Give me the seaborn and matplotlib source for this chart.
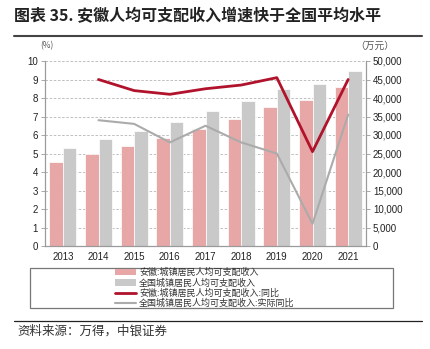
import numpy as np
import pandas as pd
import matplotlib
matplotlib.use("Agg")
import matplotlib.pyplot as plt
from matplotlib.patches import Patch, Rectangle
from matplotlib.lines import Line2D
import seaborn as sns

# ---- data ----
years = ["2013", "2014", "2015", "2016", "2017", "2018", "2019", "2020", "2021"]
anhui_income = [22789, 24839, 26936, 29156, 31640, 34393, 37540, 39442, 43009]
national_income = [26467, 28844, 31195, 33616, 36396, 39251, 42359, 43834, 47412]
line_years = ["2014", "2015", "2016", "2017", "2018", "2019", "2020", "2021"]
anhui_yoy = [9.0, 8.4, 8.2, 8.5, 8.7, 9.1, 5.1, 9.0]
national_real_yoy = [6.8, 6.6, 5.6, 6.5, 5.6, 5.0, 1.2, 7.1]

s_anhui = "安徽:城镇居民人均可支配收入"
s_nat = "全国城镇居民人均可支配收入"
s_anhui_yoy = "安徽:城镇居民人均可支配收入:同比"
s_nat_yoy = "全国城镇居民人均可支配收入:实际同比"

title = "图表 35. 安徽人均可支配收入增速快于全国平均水平"
source = "资料来源：万得，中银证券"

pink = "#E8A7A7"
gray_bar = "#C9C9C9"
red = "#B0132B"
gray_line = "#ABABAB"

sns.set_theme(style="white")
plt.rcParams["font.family"] = ["Liberation Sans", "Noto Sans CJK SC", "DejaVu Sans"]

fig = plt.figure(figsize=(4.31, 3.49), dpi=100)
ax = fig.add_axes([45 / 431, 1 - 246 / 349, (366 - 45) / 431, (246 - 61) / 349])

df = pd.DataFrame({
    "year": years * 2,
    "value": anhui_income + national_income,
    "series": [s_anhui] * len(years) + [s_nat] * len(years),
})
sns.barplot(data=df, x="year", y="value", hue="series", order=years,
            hue_order=[s_anhui, s_nat], palette=[pink, gray_bar], width=0.75,
            saturation=1, ax=ax, legend=False, edgecolor="white", linewidth=0.5)
ax.set_ylim(0, 50000)
ax.set_xlim(-0.5, len(years) - 0.5)
ax.set_yticks(np.arange(0, 50001, 5000))
ax.set_yticklabels([f"{v:,}" for v in range(0, 50001, 5000)])
ax.yaxis.tick_right()
ax.yaxis.set_label_position("right")
ax.set_xlabel("")
ax.set_ylabel("")
ax.grid(axis="y", color="#B5B5B5", linestyle=(0, (3, 2)), linewidth=0.6)
ax.set_axisbelow(True)

ax2 = ax.twinx()
pos = {y: i for i, y in enumerate(years)}
ldf = pd.DataFrame({
    "x": [pos[y] for y in line_years] * 2,
    "v": anhui_yoy + national_real_yoy,
    "s": [s_anhui_yoy] * len(line_years) + [s_nat_yoy] * len(line_years),
})
sns.lineplot(data=ldf[ldf.s == s_anhui_yoy], x="x", y="v", color=red, linewidth=2.0, ax=ax2, legend=False)
sns.lineplot(data=ldf[ldf.s == s_nat_yoy], x="x", y="v", color=gray_line, linewidth=1.5, ax=ax2, legend=False)
ax2.set_ylim(0, 10)
ax2.set_yticks(range(0, 11))
ax2.yaxis.tick_left()
ax2.yaxis.set_label_position("left")
ax2.set_xlabel("")
ax2.set_ylabel("")
ax2.set_xlim(-0.5, len(years) - 0.5)

spine_c = "#9A9A9A"
for a in (ax, ax2):
    a.spines["top"].set_visible(False)
    for s in ("left", "right", "bottom"):
        a.spines[s].set_color(spine_c)
        a.spines[s].set_linewidth(0.8)

ax.set_xticks(range(len(years)))
ax.set_xticklabels(years)
ax.set_xticks(np.arange(-0.5, len(years), 1), minor=True)
ax.tick_params(axis="x", which="major", length=0, labelsize=7, pad=4, colors="#222222")
ax.tick_params(axis="x", which="minor", length=3, width=0.6, color=spine_c, direction="out")
ax.tick_params(axis="y", length=3, width=0.6, color=spine_c, labelsize=7, labelcolor="#222222", pad=2,
               left=False, right=True, labelleft=False, labelright=True)
ax2.tick_params(axis="y", length=3, width=0.6, color=spine_c, labelsize=7, labelcolor="#222222", pad=2,
                left=True, right=False, labelleft=True, labelright=False)
ax2.tick_params(axis="x", which="both", length=0, labelbottom=False)

cjk = ["Noto Sans CJK SC", "DejaVu Sans"]
fig.text(47 / 431, 1 - 46 / 349, "(%)", fontsize=6, color="#555555", ha="center", va="center",
         family=cjk)
fig.text(375 / 431, 1 - 46 / 349, "（万元）", fontsize=7, color="#555555", ha="center", va="center",
         family=cjk)

fig.text(14 / 431, 1 - 16 / 349, title, fontsize=11.5, fontweight="bold", color="#222222",
         ha="left", va="center", family=cjk)
fig.add_artist(Line2D([14 / 431, 422 / 431], [1 - 36 / 349, 1 - 36 / 349], color="#444444",
                      linewidth=1.5, transform=fig.transFigure))
fig.add_artist(Line2D([14 / 431, 422 / 431], [1 - 321 / 349, 1 - 321 / 349], color="#222222",
                      linewidth=0.9, transform=fig.transFigure))
fig.text(17 / 431, 1 - 331 / 349, source, fontsize=9, style="italic", color="#333333",
         ha="left", va="center", family=cjk)

# legend frame
fig.add_artist(Rectangle((30 / 431, 1 - 308 / 349), (393 - 30) / 431, (308 - 268) / 349,
                         transform=fig.transFigure, fill=False, edgecolor="#777777", linewidth=0.9))
handles = [
    Patch(facecolor=pink, edgecolor="none"),
    Patch(facecolor=gray_bar, edgecolor="none"),
    Line2D([], [], color=red, linewidth=2.0),
    Line2D([], [], color=gray_line, linewidth=1.5),
]
labels = [s_anhui, s_nat, s_anhui_yoy, s_nat_yoy]
leg = fig.legend(handles, labels, loc="upper left", bbox_to_anchor=(115 / 431, 1 - 268 / 349),
                 frameon=False, prop={"family": cjk, "size": 6.5}, handlelength=2.3,
                 handleheight=0.7, handletextpad=0.35, labelspacing=0.12, borderpad=0.0,
                 borderaxespad=0.0)
for t in leg.get_texts():
    t.set_color("#333333")

fig.savefig("out.png", dpi=100)
